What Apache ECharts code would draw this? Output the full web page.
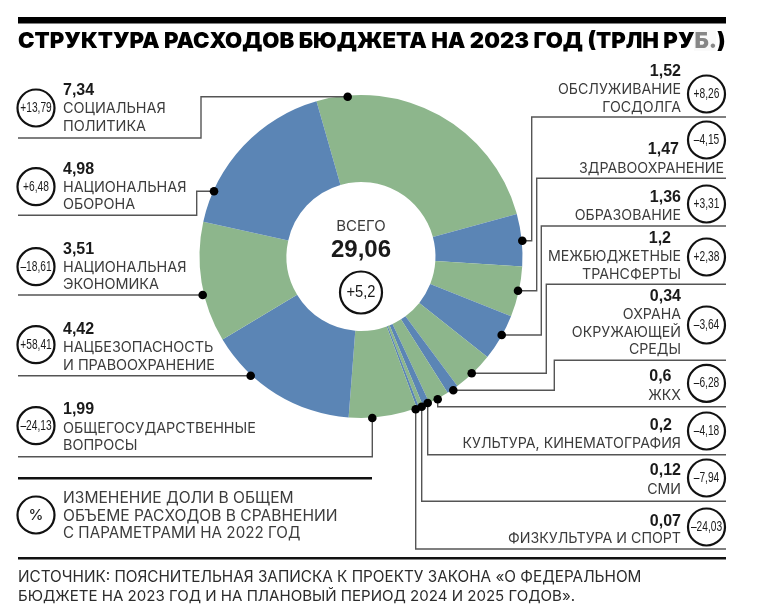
<!DOCTYPE html>
<html>
<head>
<meta charset="utf-8">
<script src="https://cdn.jsdelivr.net/npm/echarts@6/dist/echarts.min.js"></script>
<style>
html, body { margin: 0; padding: 0; background: #fff; }
#chart { width: 768px; height: 613px; }
</style>
</head>
<body>
<div id="chart"></div>
<script>
// данные: расходы бюджета по часовой стрелке, начиная с соцполитики
var categories = [
    'СОЦИАЛЬНАЯ\nПОЛИТИКА',
    'ОБСЛУЖИВАНИЕ\nГОСДОЛГА',
    'ЗДРАВООХРАНЕНИЕ',
    'ОБРАЗОВАНИЕ',
    'МЕЖБЮДЖЕТНЫЕ\nТРАНСФЕРТЫ',
    'ОХРАНА\nОКРУЖАЮЩЕЙ\nСРЕДЫ',
    'ЖКХ',
    'КУЛЬТУРА, КИНЕМАТОГРАФИЯ',
    'СМИ',
    'ФИЗКУЛЬТУРА И СПОРТ',
    'ОБЩЕГОСУДАРСТВЕННЫЕ\nВОПРОСЫ',
    'НАЦБЕЗОПАСНОСТЬ\nИ ПРАВООХРАНЕНИЕ',
    'НАЦИОНАЛЬНАЯ\nЭКОНОМИКА',
    'НАЦИОНАЛЬНАЯ\nОБОРОНА'
];
var amounts = [7.34, 1.52, 1.47, 1.36, 1.2, 0.34, 0.6, 0.2, 0.12, 0.07, 1.99, 4.42, 3.51, 4.98];
var amountLabels = ['7,34', '1,52', '1,47', '1,36', '1,2', '0,34', '0,6', '0,2', '0,12', '0,07', '1,99', '4,42', '3,51', '4,98'];
var changes = ['+13,79', '+8,26', '–4,15', '+3,31', '+2,38', '–3,64', '–6,28', '–4,18', '–7,94', '–24,03', '–24,13', '+58,41', '–18,61', '+6,48'];

var titleText = 'СТРУКТУРА РАСХОДОВ БЮДЖЕТА НА 2023 ГОД (ТРЛН РУБ.)';
var totalLabel = 'ВСЕГО';
var totalValue = '29,06';
var totalChange = '+5,2';
var noteLines = ['ИЗМЕНЕНИЕ ДОЛИ В ОБЩЕМ', 'ОБЪЕМЕ РАСХОДОВ В СРАВНЕНИИ', 'С ПАРАМЕТРАМИ НА 2022 ГОД'];
var sourceLines = [
    'ИСТОЧНИК: ПОЯСНИТЕЛЬНАЯ ЗАПИСКА К ПРОЕКТУ ЗАКОНА «О ФЕДЕРАЛЬНОМ',
    'БЮДЖЕТЕ НА 2023 ГОД И НА ПЛАНОВЫЙ ПЕРИОД 2024 И 2025 ГОДОВ».'
];

var GREEN = '#8db68c';
var BLUE = '#5b85b5';
var INK = '#1a1a1a';
var TEXT = '#3c3c3c';
var LINE = '#555';
var BODY = 'Inter, "Liberation Sans", sans-serif';
var SANS = '"Liberation Sans", sans-serif';

// раскладка подписей: side, y кружка, центр числа, правый край числа, центры строк, выноска
var layout = [
    { side: 'l', cy: 108, num: 91, rows: [109, 126.5], lead: [[18, 138], [201, 138], [201, 96.7], [347.7, 96.7]] },
    { side: 'r', cy: 94, num: 71.5, right: 681, rows: [89.3, 107.3], lead: [[726, 117], [531.7, 117], [531.7, 240.7], [522.3, 240.7]] },
    { side: 'r', cy: 140, num: 150, right: 679, rows: [169], textRight: 724, lead: [[726, 178.3], [536.7, 178.3], [536.7, 290.7], [518, 290.7]] },
    { side: 'r', cy: 204, num: 197.5, right: 681, rows: [216], lead: [[726, 226], [541.3, 226], [541.3, 335], [501.7, 335]] },
    { side: 'r', cy: 257, num: 239, right: 671, rows: [257, 274.3], lead: [[726, 284.3], [546.3, 284.3], [546.3, 373.3], [471.7, 373.3]] },
    { side: 'r', cy: 325, num: 297, right: 681, rows: [315, 332.7, 350], lead: [[726, 360.3], [554.3, 360.3], [554.3, 390.3], [453.3, 390.3]] },
    { side: 'r', cy: 383.3, num: 377, right: 671.5, rows: [395.7], lead: [[726, 406.7], [437.7, 406.7], [437.7, 399.3]] },
    { side: 'r', cy: 431, num: 426, right: 672, rows: [443.7], lead: [[726, 454.7], [427.7, 454.7], [427.7, 403]] },
    { side: 'r', cy: 478, num: 471, right: 681, rows: [489.3], lead: [[726, 501.3], [421.7, 501.3], [421.7, 406.7]] },
    { side: 'r', cy: 527, num: 521.5, right: 681, rows: [539], lead: [[726, 549], [415.7, 549], [415.7, 409.3]] },
    { side: 'l', cy: 425.7, num: 410, rows: [428.7, 446], lead: [[18, 456.7], [372.3, 456.7], [372.3, 418]] },
    { side: 'l', cy: 344.7, num: 330, rows: [347.7, 365.7], lead: [[18, 375.7], [250.7, 375.7]] },
    { side: 'l', cy: 266.7, num: 249.5, rows: [267.5, 285], lead: [[18, 295], [202.7, 295]] },
    { side: 'l', cy: 186.7, num: 170, rows: [187.7, 205], lead: [[18, 215.3], [196.7, 215.3], [196.7, 191.3], [214, 191.3]] }
];

var graphics = [];

function addText(text, x, y, size, opts) {
    opts = opts || {};
    graphics.push({
        type: 'text',
        z: 10,
        x: x,
        y: y,
        scaleX: opts.scaleX || 1,
        style: {
            text: text,
            x: 0,
            y: 0,
            fill: opts.fill || TEXT,
            fontFamily: opts.family || BODY,
            fontSize: size,
            fontWeight: opts.weight || 'normal',
            align: opts.align || 'left',
            verticalAlign: 'middle'
        }
    });
}

function addBadge(text, cx, cy, r, size, scaleX, family, weight) {
    graphics.push({
        type: 'circle',
        z: 9,
        shape: { cx: cx, cy: cy, r: r },
        style: { fill: '#fff', stroke: '#111', lineWidth: 2.2 }
    });
    addText(text, cx, cy, size, { align: 'center', family: family || SANS, fill: INK, scaleX: scaleX, weight: weight });
}

function addRule(x1, x2, y, width, color) {
    graphics.push({
        type: 'line',
        z: 5,
        shape: { x1: x1, y1: y, x2: x2, y2: y },
        style: { stroke: color || '#111', lineWidth: width }
    });
}

layout.forEach(function (item, i) {
    var isLeft = item.side === 'l';
    var lead = item.lead;
    var end = lead[lead.length - 1];
    graphics.push({
        type: 'polyline',
        z: 5,
        shape: { points: lead },
        style: { stroke: LINE, lineWidth: 1.4, fill: null }
    });
    graphics.push({
        type: 'circle',
        z: 6,
        shape: { cx: end[0], cy: end[1], r: 4.3 },
        style: { fill: '#000' }
    });

    addBadge(changes[i], isLeft ? 36 : 706.5, item.cy, 18.5, 15, 0.68);

    var numX = isLeft ? 63 : item.right;
    addText(amountLabels[i], numX, item.num, 16, {
        weight: 'bold', fill: INK, family: SANS,
        align: isLeft ? 'left' : 'right'
    });

    var rowX = isLeft ? 63 : (item.textRight || 681);
    categories[i].split('\n').forEach(function (row, k) {
        addText(row, rowX, item.rows[k], isLeft ? 14.4 : 14.2, { align: isLeft ? 'left' : 'right' });
    });
});

// заголовок и линейки
addRule(18, 726, 20.3, 6.5, '#000');
addText(titleText, 18, 41.5, 22.15, { weight: 900, fill: '#000' });
addRule(18, 372, 478.3, 2.5);
addRule(18, 726, 558.3, 2.5);

// блик поверх заголовка, как на скане
graphics.push({
    type: 'rect',
    z: 11,
    shape: { x: 694, y: 30, width: 22, height: 21 },
    style: { fill: 'rgba(245,245,245,0.55)' }
});

// центр кольца
addText(totalLabel, 361, 226, 15, { align: 'center' });
addText(totalValue, 361, 250, 24, { align: 'center', weight: 'bold', fill: INK, family: SANS });
addBadge(totalChange, 361, 292.5, 21, 16, 0.92);

// легенда кружка
addBadge('%', 36, 515, 18.5, 15, 1, BODY, 500);
noteLines.forEach(function (row, k) {
    addText(row, 63, [498, 516, 533][k], [15.6, 15.6, 15.2][k]);
});

// источник
sourceLines.forEach(function (row, k) {
    addText(row, 18, [577.3, 596.7][k], [15.3, 15.05][k], { fill: '#2c2c2c' });
});

var chart = echarts.init(document.getElementById('chart'), null, { renderer: 'canvas' });

chart.setOption({
    animation: false,
    backgroundColor: '#fff',
    graphic: { elements: graphics },
    series: [{
        type: 'pie',
        center: [361, 256.5],
        radius: [74.5, 161.5],
        startAngle: 106,
        clockwise: true,
        silent: true,
        label: { show: false },
        labelLine: { show: false },
        data: amounts.map(function (v, i) {
            return {
                name: categories[i],
                value: v,
                itemStyle: { color: i % 2 === 0 ? GREEN : BLUE }
            };
        })
    }]
});
</script>
</body>
</html>
